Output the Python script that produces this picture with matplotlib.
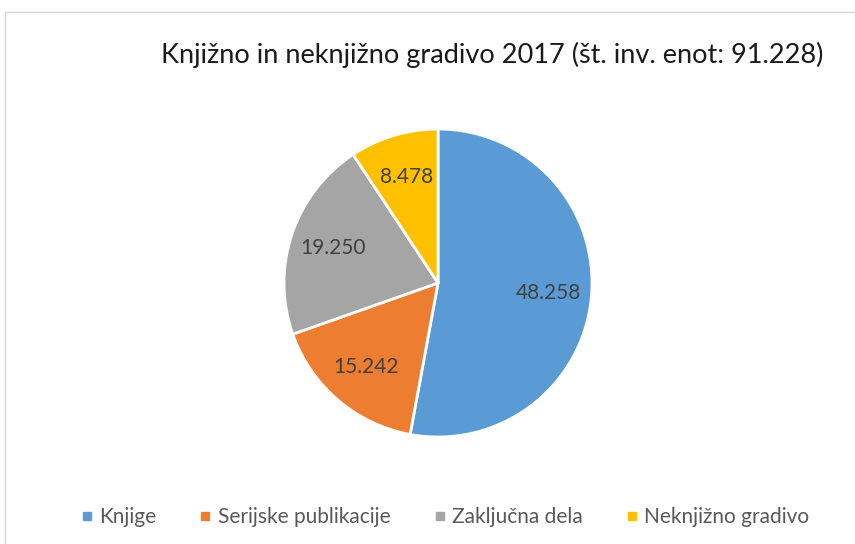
import matplotlib.pyplot as plt
from matplotlib.lines import Line2D

plt.rcParams['font.family'] = ['Lato', 'DejaVu Sans']

# data: inventory units per material type
categories = ['Knjige', 'Serijske publikacije', 'Zaključna dela', 'Neknjižno gradivo']
values = [48258, 15242, 19250, 8478]
colors = ['#5B9BD5', '#ED7D31', '#A5A5A5', '#FFC000']
title = 'Knjižno in neknjižno gradivo 2017 (št. inv. enot: 91.228)'


def fmt(v):
    return f'{v:,}'.replace(',', '.')


fig = plt.figure(figsize=(8.55, 5.44), dpi=100)

# chart area border (top and left edges visible)
fig.add_artist(Line2D([5 / 855, 5 / 855], [0, 1 - 12 / 544], color='#D9D9D9', lw=1.0))
fig.add_artist(Line2D([5 / 855, 1], [1 - 12 / 544, 1 - 12 / 544], color='#D9D9D9', lw=1.0))

fig.text(492 / 855, 1 - 55 / 544, title, ha='center', va='center', fontsize=19.5, color='#1a1a1a')

cx, cy, r = 438, 283, 154
ax = fig.add_axes([(cx - r) / 855, (544 - cy - r) / 544, 2 * r / 855, 2 * r / 544])
wedges, texts, autotexts = ax.pie(values, colors=colors, startangle=90, counterclock=False,
                                  autopct='%1.1f', pctdistance=0.72,
                                  wedgeprops=dict(edgecolor='white', linewidth=2.0))
for t, v in zip(autotexts, values):
    t.set_text(fmt(v))
    t.set_fontsize(15)
    t.set_color('#404040')
ax.set_xlim(-1.0, 1.0)
ax.set_ylim(-1.0, 1.0)
ax.set_aspect('equal')
ax.axis('off')

handles = [Line2D([], [], marker='s', ls='none', markersize=6, color=c) for c in colors]
fig.legend(handles, categories, loc='center', bbox_to_anchor=(444 / 855, 1 - 517 / 544),
           ncol=4, frameon=False, fontsize=15, labelcolor='#595959',
           handletextpad=0.2, columnspacing=1.95, handlelength=0.8)

fig.savefig('out.png', dpi=100)
